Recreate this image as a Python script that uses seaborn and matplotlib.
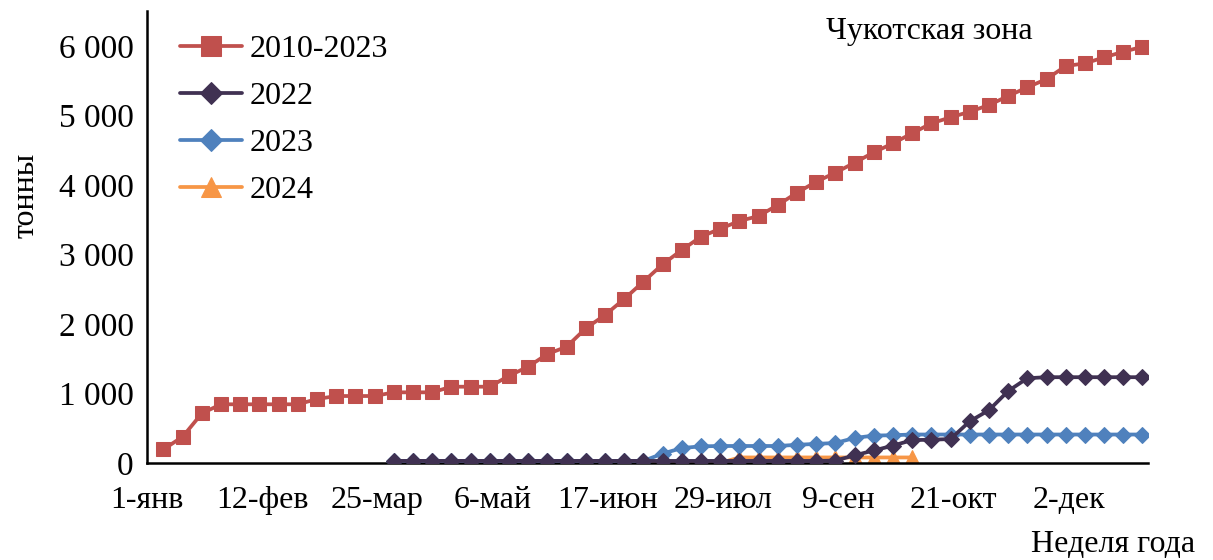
import numpy as np
import matplotlib
matplotlib.use("Agg")
import matplotlib.pyplot as plt
import seaborn as sns

# Cumulative catch by week of year, tonnes
weeks_all = list(range(1, 53))
avg_2010_2023 = [197, 378, 715, 845, 845, 845, 845, 845, 921, 964,
                 964, 964, 1017, 1017, 1017, 1098, 1098, 1098, 1256, 1386,
                 1568, 1673, 1938, 2129, 2360, 2609, 2859, 3065, 3256, 3371,
                 3482, 3554, 3712, 3889, 4047, 4177, 4321, 4470, 4600, 4744,
                 4888, 4974, 5055, 5151, 5281, 5406, 5525, 5712, 5751, 5837,
                 5918, 5990]

weeks_2022 = list(range(13, 53))
catch_2022 = [30, 30, 30, 30, 30, 30, 30, 30, 30, 30,
              30, 30, 30, 30, 30, 30, 30, 30, 30, 30,
              30, 30, 30, 35, 110, 180, 250, 330, 335, 345,
              600, 760, 1035, 1220, 1235, 1235, 1235, 1235, 1235, 1235]

weeks_2023 = list(range(13, 53))
catch_2023 = [30, 30, 30, 30, 30, 30, 30, 30, 30, 30,
              30, 30, 30, 30, 135, 215, 240, 245, 245, 245,
              245, 262, 275, 288, 360, 395, 400, 410, 410, 410,
              410, 410, 410, 410, 410, 410, 410, 410, 410, 410]

weeks_2024 = list(range(24, 41))
catch_2024 = [0, 0, 0, 0, 0, 0, 0, 80, 80, 80,
              80, 80, 80, 80, 80, 80, 80]

month_labels = ["1-янв", "12-фев", "25-мар", "6-май", "17-июн",
                "29-июл", "9-сен", "21-окт", "2-дек"]
y_ticks = [0, 1000, 2000, 3000, 4000, 5000, 6000]
y_labels = ["0", "1 000", "2 000", "3 000", "4 000", "5 000", "6 000"]

colors = {"2010-2023": "#C0504D", "2022": "#403152",
          "2023": "#4F81BD", "2024": "#F79646"}


def week_day(weeks):
    # each weekly value is plotted at the last day of its week
    return 6 + 7 * (np.asarray(weeks) - 1)


sns.set_style("white")
plt.rcParams["font.family"] = ["Liberation Serif", "DejaVu Serif"]
plt.rcParams["text.color"] = "black"

fig = plt.figure(figsize=(12.13, 5.6), dpi=100)
ax = fig.add_axes([0.1212, 0.1732, 0.8252, 0.8066])

lw = 2.7
sns.lineplot(x=week_day(weeks_2024), y=catch_2024, ax=ax, color=colors["2024"],
             marker="^", markersize=10, markeredgecolor=colors["2024"],
             linewidth=lw, label="2024", zorder=2)
sns.lineplot(x=week_day(weeks_2023), y=catch_2023, ax=ax, color=colors["2023"],
             marker="D", markersize=8, markeredgecolor=colors["2023"],
             linewidth=lw, label="2023", zorder=3)
sns.lineplot(x=week_day(weeks_2022), y=catch_2022, ax=ax, color=colors["2022"],
             marker="D", markersize=8, markeredgecolor=colors["2022"],
             linewidth=lw, label="2022", zorder=4)
sns.lineplot(x=week_day(weeks_all), y=avg_2010_2023, ax=ax, color=colors["2010-2023"],
             marker="s", markersize=10, markeredgecolor=colors["2010-2023"],
             linewidth=lw, label="2010-2023", zorder=5)

ax.set_xlim(0, 365)
ax.set_ylim(0, 6500)
ax.set_xticks([42 * i for i in range(len(month_labels))])
ax.set_xticklabels(month_labels)
ax.set_xticks(np.arange(0, 365, 7), minor=True)
ax.set_yticks(y_ticks)
ax.set_yticklabels(y_labels)
ax.set_yticks(np.arange(0, 6500, 200), minor=True)

ax.tick_params(axis="both", which="major", direction="inout", length=15,
               width=1.5, color="black", labelsize=23, labelcolor="black")
ax.tick_params(axis="x", which="major", pad=9)
ax.tick_params(axis="y", which="major", pad=2, labelsize=24)
ax.tick_params(axis="both", which="minor", direction="in", length=6,
               width=1.5, color="black")

for side in ("top", "right"):
    ax.spines[side].set_visible(False)
for side in ("left", "bottom"):
    ax.spines[side].set_color("black")
    ax.spines[side].set_linewidth(1.8)
ax.set_xlabel("")
ax.set_ylabel("")

handles, labels = ax.get_legend_handles_labels()
order = ["2010-2023", "2022", "2023", "2024"]
hmap = dict(zip(labels, handles))
leg = ax.legend([hmap[k] for k in order], order, loc="upper left",
                bbox_to_anchor=(180 / 1213, 1 - 35 / 560),
                bbox_transform=fig.transFigure, frameon=False, fontsize=23,
                handlelength=1.95, handletextpad=0.22, labelspacing=0.55,
                borderpad=0, borderaxespad=0, markerscale=1.45)
for t in leg.get_texts():
    t.set_color("black")

fig.text(826 / 1213, 1 - 32 / 560, "Чукотская зона", fontsize=23,
         ha="left", va="center", color="black")
fig.text(26 / 1213, 1 - 195 / 560, "тонны", fontsize=23, rotation=90,
         ha="center", va="center", color="black")
fig.text(1195 / 1213, 1 - 545 / 560, "Неделя года", fontsize=23,
         ha="right", va="center", color="black")

fig.savefig("out.png", dpi=100, facecolor="white")
